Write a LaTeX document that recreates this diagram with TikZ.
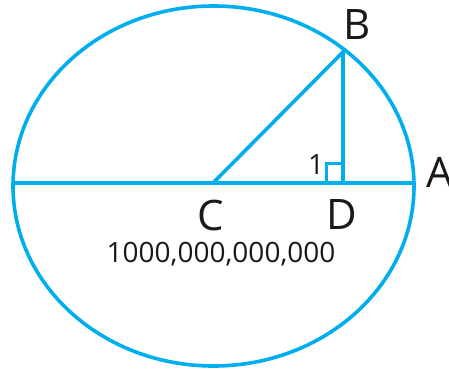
\documentclass[tikz,border=0pt]{standalone}
\usepackage{fontspec}
\setmainfont{Open Sans}
\definecolor{skyc}{HTML}{00AEEF}
\begin{document}
\begin{tikzpicture}[x=1pt,y=-1pt,
  geo/.style={draw=skyc,line width=3.6pt},
  ptlabel/.style={font=\fontsize{42}{42}\selectfont,text=black!90,inner sep=0pt},
  numlabel/.style={font=\fontsize{28}{28}\selectfont,text=black!90,inner sep=0pt}]
\useasboundingbox (0,0) rectangle (449,369);
\coordinate (L) at (13,183);
\coordinate (A) at (414,183);
\coordinate (C) at (213,183);
\coordinate (D) at (343,183);
\coordinate (B) at (343,52);
\draw[geo] (213.5,186) ellipse [x radius=200.5, y radius=180];
\draw[geo] (L) -- (A);
\draw[geo] (C) -- (B) -- (D);
\draw[geo,line width=3pt] (326,183) |- (341.5,163);
\node[ptlabel] (lB) at (357,25) {B};
\node[ptlabel] (lA) at (440,172) {A};
\node[ptlabel] (lC) at (211,215) {C};
\node[ptlabel] (lD) at (342,215) {D};
\node[numlabel] (one) at (316,165) {1};
\node[numlabel] (big) at (221,254) {1000,000,000,000};
\end{tikzpicture}
\end{document}
